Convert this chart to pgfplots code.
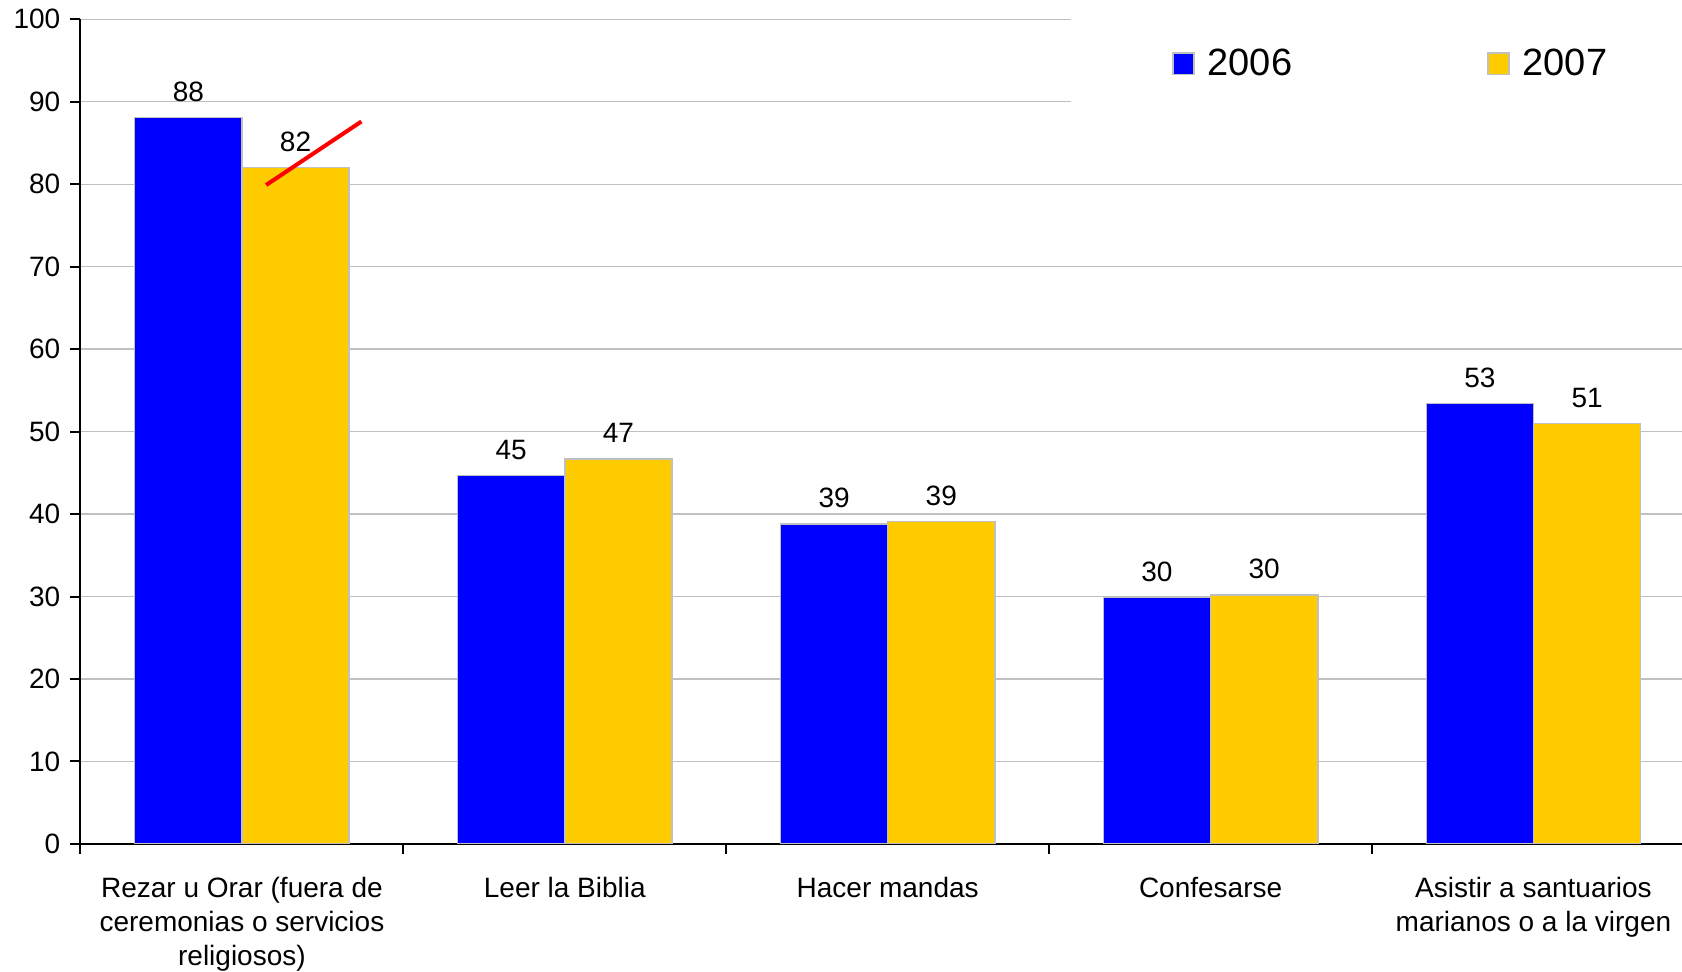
\documentclass[border=0pt]{standalone}
\usepackage{fontspec}
\setmainfont{Liberation Sans}
\usepackage{pgfplots}
\pgfplotsset{compat=1.18}
\definecolor{serieA}{RGB}{0,0,255}
\definecolor{serieB}{RGB}{255,204,0}
\definecolor{gridgray}{RGB}{192,192,192}

\begin{document}
\begin{tikzpicture}
\begin{axis}[
    scale only axis,
    width=800.75pt, height=412.3pt,
    ybar, bar width=0.332,
    xmin=-0.5, xmax=4.46,
    ymin=0, ymax=100,
    ytick={0,10,...,100},
    xtick={0,1,2,3,4},
    xticklabels={{Rezar u Orar (fuera de\\ceremonias o servicios\\religiosos)},
                 {Leer la Biblia}, {Hacer mandas}, {Confesarse},
                 {Asistir a santuarios\\marianos o a la virgen}},
    minor xtick={-0.5,0.5,1.5,2.5,3.5},
    axis x line*=bottom, axis y line*=left,
    axis line style={black, line width=1pt, -},
    ymajorgrids, grid style={gridgray, line width=0.7pt},
    tick align=outside,
    major tick length=5pt, minor tick length=5pt,
    tick style={black, line width=1pt},
    major x tick style={draw=none},
    /pgf/number format/assume math mode=true,
    ticklabel style={font=\fontsize{14}{17}\selectfont},
    xticklabel style={align=center, yshift=-8pt},
    yticklabel style={xshift=-1.6pt},
    legend columns=2,
    legend style={at={(rel axis cs:1,1.0234)}, anchor=north east,
        fill=white, draw=none, font=\fontsize{19}{23}\selectfont,
        inner xsep=35.2pt, inner ysep=22.3pt,
        /tikz/every odd column/.append style={column sep=4.4pt},
        /tikz/every even column/.append style={column sep=95.5pt}},
    legend image code/.code={\draw[#1] (0pt,-5.3pt) rectangle (10.6pt,5.3pt);},
    every node near coord/.append style={font=\fontsize{14}{17}\selectfont, black, yshift=4.3pt},
]

% 2006
\addplot[fill=serieA, draw=gridgray, line width=0.75pt, bar shift=-0.166,
    nodes near coords={\pgfmathprintnumber[fixed,precision=0]{\pgfplotspointmeta}},
    legend image code/.code={\path (-15.6pt,0); \draw[##1] (0pt,-5.3pt) rectangle (10.6pt,5.3pt);}]
    coordinates {(0,88.1) (1,44.7) (2,38.8) (3,29.9) (4,53.4)};

% 2007
\addplot[fill=serieB, draw=gridgray, line width=0.75pt, bar shift=0.166,
    nodes near coords={\pgfmathprintnumber[fixed,precision=0]{\pgfplotspointmeta}}]
    coordinates {(0,82.0) (1,46.7) (2,39.1) (3,30.2) (4,51.0)};

% trazo rojo sobre la barra de 2007
\addplot[red, line width=2pt, sharp plot, forget plot]
    coordinates {(0.075,79.9) (0.37,87.6)};

\legend{2006, 2007}
\end{axis}
\pgfresetboundingbox
\path[use as bounding box] ([xshift=-40.25pt,yshift=-64pt]current axis.south west)
    rectangle ([yshift=9.65pt]current axis.north east);
\end{tikzpicture}
\end{document}
